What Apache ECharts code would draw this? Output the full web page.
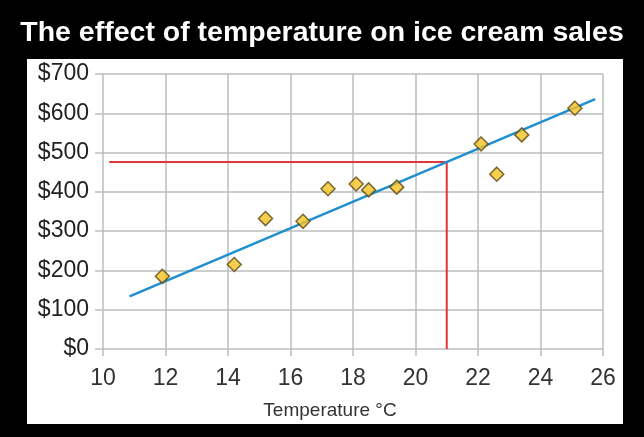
<!DOCTYPE html>
<html>
<head>
<meta charset="utf-8">
<script src="https://cdn.jsdelivr.net/npm/echarts@6/dist/echarts.min.js"></script>
<style>
html, body { margin: 0; padding: 0; background: #000; }
#chart { width: 644px; height: 437px; }
</style>
</head>
<body>
<div id="chart"></div>
<script>
// ice cream sales vs temperature
var temps = [11.9, 14.2, 15.2, 16.4, 17.2, 18.1, 18.5, 19.4, 22.1, 22.6, 23.4, 25.1];
var sales = [185, 215, 332, 325, 408, 420, 405, 412, 522, 445, 545, 613];
var trendX = [10.85, 25.75];
var trendY = [134, 636];
var guideX = [10.2, 21, 21];
var guideY = [476, 476, 0];

var chart = echarts.init(document.getElementById('chart'));

var points = temps.map(function (t, i) { return [t, sales[i]]; });
var trend = trendX.map(function (t, i) { return [t, trendY[i]]; });
var guide = guideX.map(function (t, i) { return [t, guideY[i]]; });

chart.setOption({
    backgroundColor: '#000',
    animation: false,
    title: {
        text: 'The effect of temperature on ice cream sales',
        left: 'center',
        top: 14,
        textStyle: { color: '#fff', fontSize: 28.5, fontWeight: 'bold', fontFamily: 'Liberation Sans' }
    },
    graphic: [{
        type: 'rect',
        z: -10,
        shape: { x: 27, y: 59, width: 596, height: 365 },
        style: { fill: '#fff' }
    }],
    grid: { left: 103, right: 41, top: 74, bottom: 88 },
    xAxis: {
        type: 'value',
        min: 10, max: 26, interval: 2,
        name: 'Temperature °C',
        nameLocation: 'middle',
        nameGap: 52,
        nameTextStyle: { color: '#333', fontSize: 19, fontFamily: 'Liberation Sans', padding: [0, 46, 0, 0] },
        axisLine: { show: false },
        axisTick: { show: true, length: 7, lineStyle: { color: '#bdbdbd', width: 1.5 } },
        axisLabel: { color: '#333', fontSize: 23, margin: 18, fontFamily: 'Liberation Sans' },
        splitLine: { show: true, lineStyle: { color: '#bdbdbd', width: 1.5 } }
    },
    yAxis: {
        type: 'value',
        min: 0, max: 700, interval: 100,
        axisLine: { show: false },
        axisTick: { show: true, length: 8, lineStyle: { color: '#bdbdbd', width: 1.5 } },
        axisLabel: { color: '#222', fontSize: 23, margin: 14, fontFamily: 'Liberation Sans',
            formatter: function (v) { return '$' + v; } },
        splitLine: { show: true, lineStyle: { color: '#bdbdbd', width: 1.5 } }
    },
    series: [{
        type: 'line',
        data: guide,
        symbol: 'none',
        lineStyle: { color: '#e0363c', width: 2 },
        z: 2
    }, {
        type: 'line',
        data: trend,
        symbol: 'none',
        lineStyle: { color: '#1f8fd0', width: 2.5 },
        z: 3
    }, {
        type: 'scatter',
        data: points,
        symbol: 'diamond',
        symbolSize: 14,
        itemStyle: { color: '#f5c322', borderColor: '#5b4614', borderWidth: 1.5 },
        z: 4
    }]
});
</script>
</body>
</html>
